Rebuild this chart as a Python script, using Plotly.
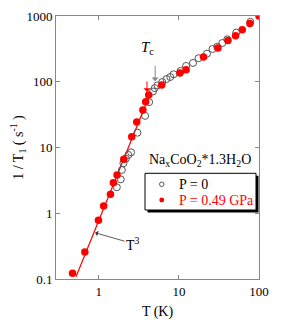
import plotly.graph_objects as go
import math

# P = 0 (open circles)
T_p0 = [1.68, 1.88, 1.94, 2.03, 2.18, 2.34, 2.53, 3.04, 3.79, 4.25, 4.75, 5.0, 5.4,
        6.2, 7.0, 7.8, 8.6, 10.5, 12.3, 15.0, 17.6, 22.4, 26.3, 30.1, 34.8, 40.2, 52, 78]
R_p0 = [2.48, 3.28, 4.55, 5.75, 6.76, 7.7, 8.45, 16.8, 30.3, 49, 71, 80, 88,
        99, 110, 118, 130, 146, 174, 193, 228, 267, 315, 341, 388, 443, 560, 815]

# P = 0.49 GPa (filled red)
T_p1 = [0.47, 0.67, 0.99, 1.15, 1.40, 1.52, 1.69, 2.05, 2.58, 2.98, 3.55, 3.85, 4.2,
        6.1, 10.3, 12.3, 20.3, 30.7, 41, 51, 61.8, 77, 100]
R_p1 = [0.122, 0.257, 0.78, 1.29, 1.94, 2.92, 3.82, 6.6, 14.6, 24.4, 37.2, 49.5, 63,
        89, 136, 152, 237, 327, 425, 500, 620, 770, 1000]

# T^3 guide line end points
T_fit = [0.52, 4.25]
R_fit = [0.108, 60]

x_ticks = [1, 10, 100]
x_ticktext = ["1", "10", "100"]
y_ticks = [0.1, 1, 10, 100, 1000]
y_ticktext = ["0.1", "1", "10", "100", "1000"]

FONT = "Liberation Serif, Times New Roman, serif"
AX = "#888888"

fig = go.Figure()
fig.add_trace(go.Scatter(x=T_fit, y=R_fit, mode="lines",
                         line=dict(color="#ff0000", width=1.2), showlegend=False))
fig.add_trace(go.Scatter(x=T_p0, y=R_p0, mode="markers", name="P = 0",
                         marker=dict(symbol="circle-open", size=7, color="#555555",
                                     line=dict(width=1)), showlegend=False))
fig.add_trace(go.Scatter(x=T_p1, y=R_p1, mode="markers", name="P = 0.49 GPa",
                         marker=dict(symbol="circle", size=7.5, color="#ff0000"),
                         showlegend=False))

# page has an 8px body margin; compensate
OFF = 8
PAGE_W, PAGE_H = 282, 333
PL, PR, PT, PB = 56, 259, 16, 279   # plot area in page pixels
W, H = PAGE_W - OFF, PAGE_H - OFF
L, T = PL - OFF, PT - OFF
R, B = PAGE_W - PR, PAGE_H - PB
pw, ph = PR - PL, PB - PT

def px(xp):
    return (xp - PL) / pw

def py(yp):
    return (PB - yp) / ph

shapes = [
    # legend shadow
    dict(type="rect", xref="paper", yref="paper",
         x0=px(147.5), x1=px(258.5), y0=py(212.5), y1=py(175.8),
         fillcolor="black", line=dict(width=0)),
    # legend box
    dict(type="rect", xref="paper", yref="paper",
         x0=px(145), x1=px(256), y0=py(210), y1=py(173.3),
         fillcolor="white", line=dict(color="black", width=1)),
    # legend markers
    dict(type="circle", xref="paper", yref="paper",
         x0=px(159.5), x1=px(164), y0=py(186.5), y1=py(182),
         line=dict(color="#555555", width=1), fillcolor="white"),
    dict(type="circle", xref="paper", yref="paper",
         x0=px(159.3), x1=px(164.2), y0=py(202.4), y1=py(197.5),
         line=dict(color="#ff0000", width=0), fillcolor="#ff0000"),
]

annotations = [
    dict(xref="paper", yref="paper", x=px(176.7), y=py(184.3), xanchor="left",
         yanchor="middle", text="P = 0", showarrow=False,
         font=dict(family=FONT, size=14, color="black")),
    dict(xref="paper", yref="paper", x=px(176.7), y=py(200), xanchor="left",
         yanchor="middle", text="P = 0.49 GPa", showarrow=False,
         font=dict(family=FONT, size=14, color="#ff0000")),
    dict(xref="paper", yref="paper", x=px(200), y=py(160), xanchor="center",
         yanchor="middle", text="Na<sub>x</sub>CoO<sub>2</sub>*1.3H<sub>2</sub>O",
         showarrow=False, font=dict(family=FONT, size=14, color="black")),
    # Tc label
    dict(xref="x", yref="y", x=math.log10(4.0), y=math.log10(330),
         text="<i>T</i><sub>c</sub>", showarrow=False,
         font=dict(family=FONT, size=15, color="black")),
    # gray Tc arrow
    dict(xref="x", yref="y", x=math.log10(5.05), y=math.log10(102),
         text="", showarrow=True, ax=0, ay=-17, arrowhead=1, arrowsize=1.2,
         arrowwidth=1, arrowcolor="#888888"),
    # red Tc arrow
    dict(xref="x", yref="y", x=math.log10(4.0), y=math.log10(70),
         text="", showarrow=True, ax=0, ay=-12, arrowhead=1, arrowsize=1.2,
         arrowwidth=1, arrowcolor="#ff0000"),
    # T^3 label with arrow
    dict(xref="x", yref="y", x=math.log10(0.9), y=math.log10(0.506),
         text="T<sup>3</sup>", showarrow=True, ax=38, ay=11, arrowhead=1,
         arrowsize=1.2, arrowwidth=0.8, arrowcolor="#333333", standoff=0,
         font=dict(family=FONT, size=14, color="black")),
]

axis_common = dict(type="log", showgrid=False, zeroline=False, showline=True,
                   linecolor=AX, linewidth=1, mirror="ticks", ticks="inside",
                   ticklen=4, tickcolor=AX, tickwidth=1,
                   tickfont=dict(family=FONT, size=13, color="black"))

fig.update_layout(
    width=W, height=H,
    margin=dict(l=L, r=R, t=T, b=B, autoexpand=False),
    paper_bgcolor="white", plot_bgcolor="white",
    font=dict(family=FONT, size=13, color="black"),
    xaxis=dict(range=[-0.534, 2.0], tickvals=x_ticks, ticktext=x_ticktext,
               title=dict(text="T (K)", font=dict(family=FONT, size=14), standoff=8),
               **axis_common),
    yaxis=dict(range=[-1, 3], tickvals=y_ticks, ticktext=y_ticktext,
               title=dict(text="1 / T<sub>1</sub> ( s<sup>-1</sup> )",
                          font=dict(family=FONT, size=14), standoff=6),
               **axis_common),
    shapes=shapes,
    annotations=annotations,
)

fig.write_html("out.html")
